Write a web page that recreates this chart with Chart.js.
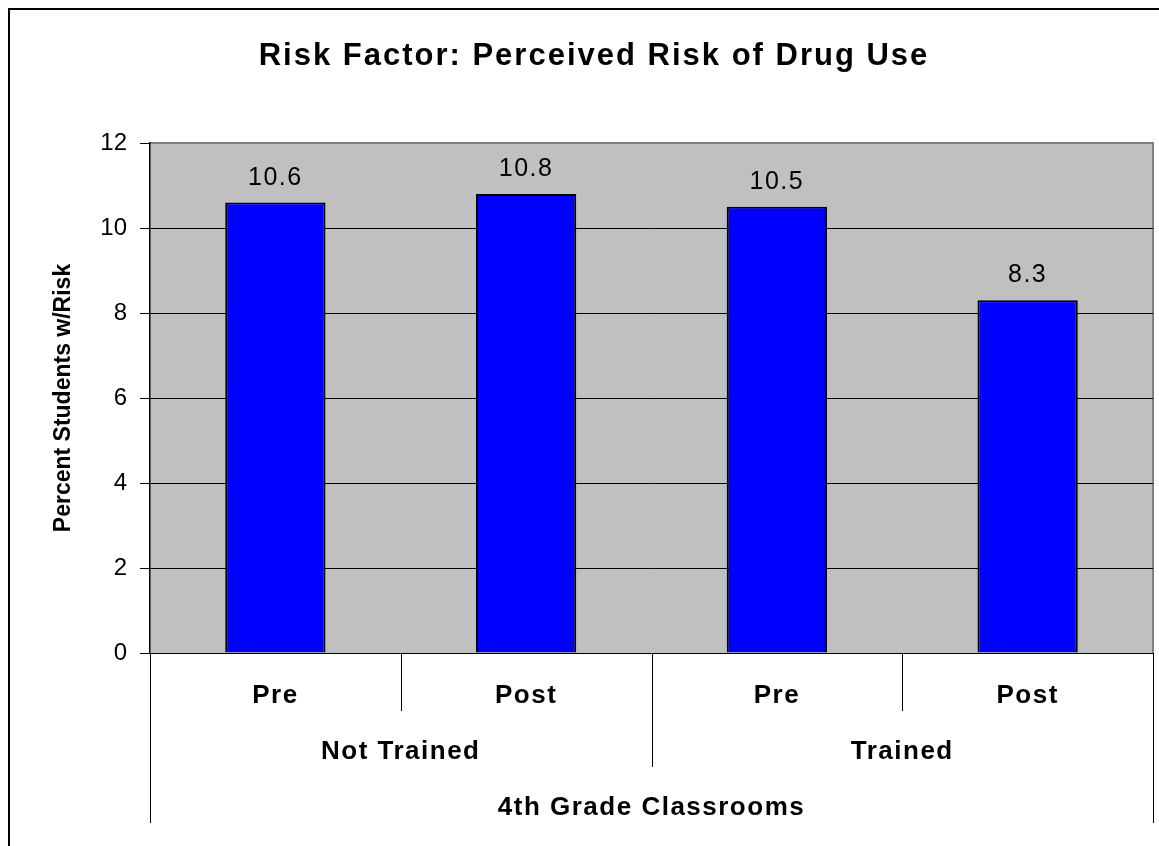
<!DOCTYPE html>
<html>
<head>
<meta charset="utf-8">
<script src="https://cdn.jsdelivr.net/npm/chart.js@4"></script>
<style>
    html, body { margin: 0; padding: 0; background: #fff; }
    #wrap { position: relative; width: 1159px; height: 846px; overflow: hidden; }
    #frame { position: absolute; left: 8px; top: 8px; width: 1200px; height: 900px; border: 2px solid #000; box-sizing: border-box; }
    canvas { position: absolute; left: 0; top: 0; }
</style>
</head>
<body>
<div id="wrap">
    <div id="frame"></div>
    <canvas id="riskChart" width="1159" height="846"></canvas>
</div>
<script>
'use strict';

const chartTitle = 'Risk Factor: Perceived Risk of Drug Use';
const axisTitle = '4th Grade Classrooms';
const categories = ['Pre', 'Post', 'Pre', 'Post'];
const groups = ['Not Trained', 'Trained'];
const groupSize = 2;
const values = [10.6, 10.8, 10.5, 8.3];
const yTicks = [0, 2, 4, 6, 8, 10, 12];

const FONT = '"Liberation Sans", Arial, sans-serif';

// gray plot background + frame lines + title
const plotBackground = {
    id: 'plotBackground',
    beforeDraw(chart) {
        const { ctx, chartArea: a } = chart;
        ctx.save();
        ctx.fillStyle = '#C0C0C0';
        ctx.fillRect(a.left, a.top, a.right - a.left, a.bottom - a.top);
        ctx.strokeStyle = '#808080';
        ctx.lineWidth = 2;
        ctx.beginPath();
        ctx.moveTo(a.left, a.top);
        ctx.lineTo(a.right, a.top);
        ctx.lineTo(a.right, a.bottom);
        ctx.stroke();

        ctx.fillStyle = '#000';
        ctx.textAlign = 'center';
        ctx.textBaseline = 'alphabetic';
        ctx.font = 'bold 31px ' + FONT;
        ctx.letterSpacing = '2px';
        ctx.fillText(chartTitle, 594, 65);
        ctx.restore();
    }
};

// value labels above bars
const valueLabels = {
    id: 'valueLabels',
    afterDatasetsDraw(chart) {
        const { ctx } = chart;
        const meta = chart.getDatasetMeta(0);
        ctx.save();
        ctx.font = '25px ' + FONT;
        ctx.letterSpacing = '1.5px';
        ctx.fillStyle = '#000';
        ctx.textAlign = 'center';
        ctx.textBaseline = 'alphabetic';
        meta.data.forEach((bar, i) => {
            ctx.fillText(values[i].toFixed(1), bar.x, bar.y - 18);
        });
        ctx.restore();
    }
};

// two-level category axis below the plot
const groupAxis = {
    id: 'groupAxis',
    afterDraw(chart) {
        const { ctx, chartArea: a } = chart;
        const x = chart.scales.x;
        const half = (x.getPixelForValue(1) - x.getPixelForValue(0)) / 2;
        ctx.save();
        ctx.strokeStyle = '#000';
        ctx.lineWidth = 1;
        ctx.fillStyle = '#000';
        ctx.textAlign = 'center';
        ctx.textBaseline = 'alphabetic';
        ctx.font = 'bold 26px ' + FONT;
        ctx.letterSpacing = '1.5px';

        const line = (px, y1, y2) => {
            ctx.beginPath();
            ctx.moveTo(Math.round(px) + 0.5, y1);
            ctx.lineTo(Math.round(px) + 0.5, y2);
            ctx.stroke();
        };

        categories.forEach((c, i) => {
            const cx = x.getPixelForValue(i);
            ctx.fillText(c, cx, a.bottom + 50);
            if (i % groupSize !== 0) line(cx - half, a.bottom, a.bottom + 58);
        });

        groups.forEach((g, gi) => {
            const first = x.getPixelForValue(gi * groupSize);
            const last = x.getPixelForValue(gi * groupSize + groupSize - 1);
            ctx.fillText(g, (first + last) / 2, a.bottom + 106);
            if (gi > 0) line(first - half, a.bottom, a.bottom + 114);
        });

        line(a.left, a.bottom, a.bottom + 170);
        line(a.right, a.bottom, a.bottom + 170);
        ctx.fillText(axisTitle, (a.left + a.right) / 2, a.bottom + 162);
        ctx.restore();
    }
};

const ctx = document.getElementById('riskChart').getContext('2d');

new Chart(ctx, {
    type: 'bar',
    data: {
        labels: categories,
        datasets: [{
            data: values,
            backgroundColor: '#0000FF',
            borderColor: '#000',
            borderWidth: 2,
            barPercentage: 0.4,
            categoryPercentage: 1.0
        }]
    },
    options: {
        responsive: false,
        animation: false,
        layout: {
            padding: { left: 0, right: 6, top: 143, bottom: 193 }
        },
        plugins: {
            legend: { display: false },
            tooltip: { enabled: false },
            title: { display: false }
        },
        scales: {
            x: {
                ticks: { display: false },
                grid: { display: false },
                border: { display: false },
                afterFit: s => { s.height = 0; }
            },
            y: {
                min: 0,
                max: 12,
                afterBuildTicks: s => { s.ticks = yTicks.map(v => ({ value: v })); },
                afterFit: s => { s.width = 150; },
                ticks: {
                    color: '#000',
                    padding: 13,
                    font: { family: FONT, size: 24 }
                },
                grid: {
                    color: c => (c.tick && c.tick.value === 12 ? '#808080' : '#000'),
                    tickColor: '#000',
                    tickLength: 10,
                    lineWidth: 1
                },
                border: { color: '#000', width: 1.5 },
                title: {
                    display: true,
                    text: 'Percent Students w/Risk',
                    color: '#000',
                    font: { family: FONT, size: 23, weight: 'bold' },
                    padding: { top: 50, bottom: 0 }
                }
            }
        }
    },
    plugins: [plotBackground, valueLabels, groupAxis]
});
</script>
</body>
</html>
